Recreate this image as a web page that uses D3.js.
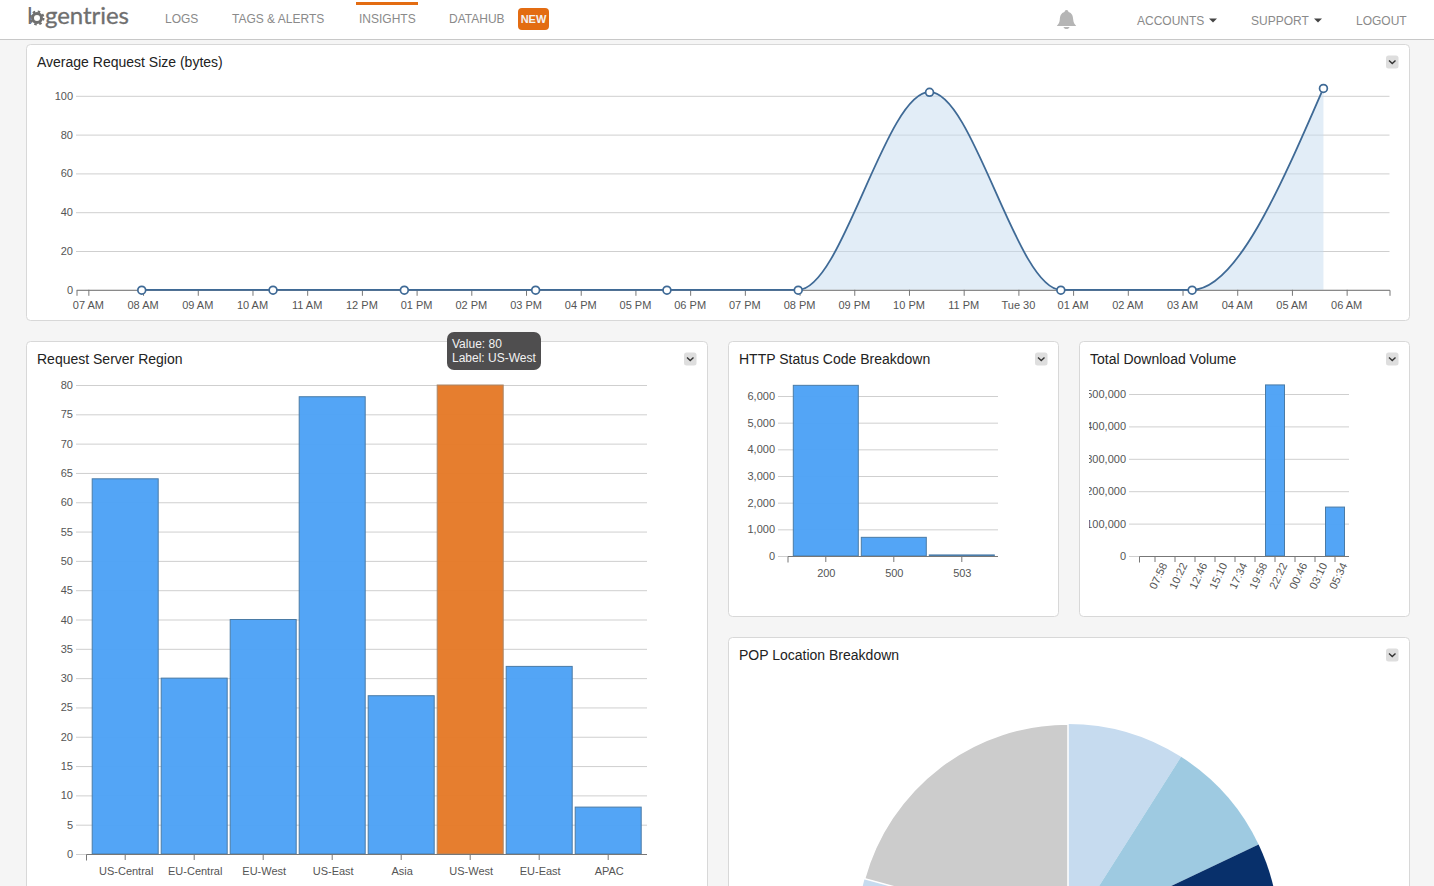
<!DOCTYPE html>
<html>
<head>
<meta charset="utf-8">
<title>Insights</title>
<script src="https://cdn.jsdelivr.net/npm/d3@7"></script>
<style>
  html, body { margin: 0; padding: 0; background: #f5f5f5; overflow: hidden; }
  svg { display: block; font-family: "Liberation Sans", Arial, sans-serif; }
  .tick text { fill: #555; font-size: 11px; }
  .panelTitle { fill: #222; font-size: 14px; }
  .nav { fill: #8a8a8a; font-size: 12px; }
</style>
</head>
<body>
<svg id="page" width="1434" height="886"></svg>
<script>
// Average Request Size, one point every 2h24
var reqTimes = [
  new Date(2014, 8, 29, 7, 58), new Date(2014, 8, 29, 10, 22), new Date(2014, 8, 29, 12, 46),
  new Date(2014, 8, 29, 15, 10), new Date(2014, 8, 29, 17, 34), new Date(2014, 8, 29, 19, 58),
  new Date(2014, 8, 29, 22, 22), new Date(2014, 8, 30, 0, 46), new Date(2014, 8, 30, 3, 10),
  new Date(2014, 8, 30, 5, 34)];
var reqSizes = [0, 0, 0, 0, 0, 0, 102, 0, 0, 104];
var reqTicks = [0, 20, 40, 60, 80, 100];

// Request Server Region
var regions = ["US-Central", "EU-Central", "EU-West", "US-East", "Asia", "US-West", "EU-East", "APAC"];
var regionValues = [64, 30, 40, 78, 27, 80, 32, 8];
var regionTicks = d3.range(0, 85, 5);

// HTTP Status Code Breakdown
var statusCodes = ["200", "500", "503"];
var statusValues = [6400, 700, 40];
var statusTicks = [0, 1000, 2000, 3000, 4000, 5000, 6000];

// Total Download Volume
var volumeTimes = ["07:58", "10:22", "12:46", "15:10", "17:34", "19:58", "22:22", "00:46", "03:10", "05:34"];
var volumeValues = [0, 0, 0, 0, 0, 0, 528000, 0, 0, 151000];
var volumeTicks = [0, 100000, 200000, 300000, 400000, 500000];

// POP Location Breakdown, in degrees. Only the top of the pie is on the page
// so the middle slices are a rough guess
var popValues = [32.4, 32.2, 38, 50, 60, 33.1, 39.8, 74.5];
var popColors = ["#c6dbef", "#9ecae1", "#08306b", "#6baed6", "#3182bd", "#9ecae1", "#c6dbef", "#cccccc"];

var barBlue = "#4da2f6";
var barOrange = "#e57a28";
var svg = d3.select("#page");

// top nav
svg.append("rect").attr("width", 1434).attr("height", 39.5).attr("fill", "#fff");
svg.append("line").attr("x1", 0).attr("x2", 1434).attr("y1", 39.5).attr("y2", 39.5).attr("stroke", "#c8c8c8");
svg.append("text").attr("x", 27).attr("y", 24).attr("fill", "#6f6f6f")
  .style("font-family", "Lato").style("font-size", "24px").text("l");
svg.append("text").attr("x", 45).attr("y", 24).attr("fill", "#6f6f6f").attr("stroke", "#6f6f6f").attr("stroke-width", 0.3)
  .style("font-family", "Lato").style("font-size", "24px").attr("textLength", 84).text("gentries");
svg.append("circle").attr("cx", 37).attr("cy", 18).attr("r", 4.5).attr("fill", "none").attr("stroke", "#6f6f6f").attr("stroke-width", 3);
svg.append("circle").attr("cx", 37).attr("cy", 18).attr("r", 6.5).attr("fill", "none").attr("stroke", "#6f6f6f")
  .attr("stroke-width", 2).attr("stroke-dasharray", "2.5 2.6");

var navLeft = [["LOGS", 165], ["TAGS & ALERTS", 232], ["INSIGHTS", 359], ["DATAHUB", 449]];
svg.selectAll(".navL").data(navLeft).enter().append("text").attr("class", "nav")
  .attr("x", function (d) { return d[1]; }).attr("y", 23).text(function (d) { return d[0]; });
var navRight = [["ACCOUNTS", 1137], ["SUPPORT", 1251], ["LOGOUT", 1356]];
svg.selectAll(".navR").data(navRight).enter().append("text").attr("class", "nav")
  .attr("x", function (d) { return d[1]; }).attr("y", 25).text(function (d) { return d[0]; });
svg.append("rect").attr("x", 356).attr("y", 2).attr("width", 62).attr("height", 3).attr("fill", "#e36c12");
svg.append("rect").attr("x", 518).attr("y", 8).attr("width", 31).attr("height", 22).attr("rx", 4).attr("fill", "#e36c12");
svg.append("text").attr("x", 533.5).attr("y", 23).attr("text-anchor", "middle").attr("fill", "#f3f3f3")
  .style("font-size", "11px").style("font-weight", "bold").text("NEW");
[1209, 1314].forEach(function (cx) {
  svg.append("path").attr("d", "M" + cx + " 18.5h8l-4 4z").attr("fill", "#444");
});
// bell
svg.append("path").attr("fill", "#b5b5b5")
  .attr("d", "M1066.5 10c1.2 0 1.8.8 2 2 3.5 1 4.5 4 4.7 7.500.2 3 1.300 4.500 3 6.500h-19.400c1.700-2 2.800-3.500 3-6.500.2-3.500 1.200-6.500 4.700-7.500.2-1.200.8-2 2-2z");
svg.append("path").attr("fill", "#b5b5b5").attr("d", "M1063.500 27h6c-.5 1.500-1.500 2-3 2s-2.500-.5-3-2z");

// panels
var panels = [
  { x: 26.5, y: 44.5, w: 1383, h: 276, title: "Average Request Size (bytes)" },
  { x: 26.5, y: 341.5, w: 681, h: 600, title: "Request Server Region" },
  { x: 728.5, y: 341.5, w: 330, h: 275, title: "HTTP Status Code Breakdown" },
  { x: 1079.5, y: 341.5, w: 330, h: 275, title: "Total Download Volume" },
  { x: 728.5, y: 637.5, w: 681, h: 300, title: "POP Location Breakdown" }
];
panels.forEach(function (p) {
  svg.append("rect").attr("x", p.x).attr("y", p.y).attr("width", p.w).attr("height", p.h).attr("rx", 4)
    .attr("fill", "#fff").attr("stroke", "#d8d8d8");
  svg.append("text").attr("class", "panelTitle").attr("x", p.x + 10.500).attr("y", p.y + 22.500).text(p.title);
  var bx = p.x + p.w - 23.5, by = p.y + 11;
  svg.append("rect").attr("x", bx).attr("y", by).attr("width", 12.5).attr("height", 13).attr("rx", 2.5).attr("fill", "#dedede");
  svg.append("path").attr("d", "M" + (bx + 3) + " " + (by + 5) + "l3.25 3l3.25 -3").attr("fill", "none")
    .attr("stroke", "#333").attr("stroke-width", 1.4);
});

function styleAxis(g) {
  g.selectAll(".domain").attr("stroke", "#777");
  g.selectAll("line").attr("stroke", "#777");
}

// grid lines and labels of the value axis
function drawYAxis(y, ticks, gridLeft, gridRight) {
  var g = svg.append("g").attr("transform", "translate(" + gridLeft + ",0)")
    .call(d3.axisLeft(y).tickValues(ticks).tickSize(0).tickPadding(3).tickFormat(d3.format(",")));
  g.select(".domain").remove();
  g.selectAll(".tick line").attr("x2", gridRight - gridLeft).attr("stroke", "#cfcfcf");
  return g;
}

function drawBars(opts) {
  var x = d3.scaleBand().domain(opts.cats).range(opts.barRange).paddingInner(opts.pad).paddingOuter(opts.pad / 2);
  var y = d3.scaleLinear().domain(opts.yDomain).range(opts.yRange);
  var yAxis = drawYAxis(y, opts.ticks, opts.gridLeft, opts.gridRight);

  svg.selectAll(null).data(opts.vals).enter().append("rect")
    .attr("x", function (d, i) { return x(opts.cats[i]); })
    .attr("width", x.bandwidth())
    .attr("y", function (d) { return y(d); })
    .attr("height", function (d) { return y(0) - y(d); })
    .attr("fill", function (d) { return d === opts.highlight ? barOrange : barBlue; })
    .attr("fill-opacity", 0.97)
    .attr("stroke", function (d) { return d === opts.highlight ? "#a88668" : "#4a7ba6"; });

  var xAxis = svg.append("g").attr("transform", "translate(0," + y(0) + ")")
    .call(d3.axisBottom(x).tickSize(6).tickPadding(opts.tickPad));
  xAxis.select(".domain").remove();
  xAxis.append("path").attr("fill", "none")
    .attr("d", "M" + opts.axisLeft + " 6.5V0.5H" + opts.gridRight);
  styleAxis(xAxis);
  xAxis.select("path").attr("stroke", "#777");
  return { axis: xAxis, yAxis: yAxis };
}

// Average Request Size
(function () {
  var x = d3.scaleTime()
    .domain([new Date(2014, 8, 29, 6, 47), new Date(2014, 8, 30, 6, 47)])
    .range([76.5, 1389.5]);
  var y = d3.scaleLinear().domain([0, 100]).range([289.8, 95.8]);
  drawYAxis(y, reqTicks, 76, 1389.5);

  var fmtHour = d3.timeFormat("%I %p"), fmtDay = d3.timeFormat("%a %d");
  var area = d3.area().x(function (d, i) { return x(reqTimes[i]) + 0.5; }).y0(y(0)).y1(function (d) { return y(d); })
    .curve(d3.curveMonotoneX);
  var line = d3.line().x(function (d, i) { return x(reqTimes[i]) + 0.5; }).y(function (d) { return y(d); })
    .curve(d3.curveMonotoneX);

  svg.append("path").datum(reqSizes).attr("d", area).attr("fill", "#c6dbef").attr("fill-opacity", 0.5);

  var xAxis = svg.append("g").attr("transform", "translate(0," + y(0) + ")")
    .call(d3.axisBottom(x).ticks(d3.timeHour.every(1)).tickSize(6).tickPadding(5)
      .tickFormat(function (d) { return d.getHours() === 0 ? fmtDay(d) : fmtHour(d); }));
  styleAxis(xAxis);
  xAxis.selectAll("text").attr("dx", -0.5);

  svg.append("path").datum(reqSizes).attr("d", line).attr("fill", "none").attr("stroke", "#3f6a96").attr("stroke-width", 1.8);
  svg.selectAll(null).data(reqSizes).enter().append("circle")
    .attr("cx", function (d, i) { return x(reqTimes[i]) + 0.5; })
    .attr("cy", function (d) { return y(d) + 0.4; })
    .attr("r", 3.9).attr("fill", "#fff").attr("stroke", "#3f6a96").attr("stroke-width", 1.7);
})();

// Request Server Region
drawBars({
  cats: regions, vals: regionValues, highlight: 80,
  barRange: [90.7, 642.7], pad: 3 / 69, axisLeft: 86.5, gridLeft: 76, gridRight: 647,
  yDomain: [0, 80], yRange: [854, 385], ticks: regionTicks, tickPad: 7
}).axis.selectAll("text").attr("dx", 1);

// HTTP Status Code Breakdown
drawBars({
  cats: statusCodes, vals: statusValues,
  barRange: [791.8, 995.8], pad: 3 / 68, axisLeft: 788, gridLeft: 778, gridRight: 998,
  yDomain: [0, 6000], yRange: [556, 396], ticks: statusTicks, tickPad: 7
}).axis.selectAll("text").attr("dx", 0.5);

// Total Download Volume, the labels get cut on the left like the original
(function () {
  var defs = svg.append("defs");
  defs.append("clipPath").attr("id", "volClip").append("rect")
    .attr("x", 1089).attr("y", 370).attr("width", 300).attr("height", 240);
  var x = d3.scaleBand().domain(volumeTimes).range([1145, 1345]).paddingInner(0.05).paddingOuter(0.025);
  var y = d3.scaleLinear().domain([0, 500000]).range([556, 394]);
  var wrap = svg.append("g").attr("clip-path", "url(#volClip)");
  var yAxis = wrap.append("g").attr("transform", "translate(1129,0)")
    .call(d3.axisLeft(y).tickValues(volumeTicks).tickSize(0).tickPadding(3).tickFormat(d3.format(",")));
  yAxis.select(".domain").remove();
  yAxis.selectAll(".tick line").attr("x2", 220).attr("stroke", "#cfcfcf");

  svg.selectAll(null).data(volumeValues).enter().append("rect")
    .attr("x", function (d, i) { return x(volumeTimes[i]); })
    .attr("width", x.bandwidth())
    .attr("y", function (d) { return y(d); })
    .attr("height", function (d) { return y(0) - y(d); })
    .attr("fill", barBlue).attr("fill-opacity", 0.97)
    .attr("stroke", function (d) { return d > 0 ? "#4a7ba6" : "none"; });

  var xAxis = svg.append("g").attr("transform", "translate(0," + y(0) + ")")
    .call(d3.axisBottom(x).tickSize(6).tickPadding(6));
  xAxis.select(".domain").remove();
  xAxis.append("path").attr("fill", "none").attr("d", "M1139.5 6.5V0.5H1349");
  styleAxis(xAxis);
  xAxis.select("path").attr("stroke", "#777");
  xAxis.selectAll("text").attr("text-anchor", "end").attr("dy", 0)
    .attr("transform", "translate(12.5,9) rotate(-65)").attr("y", 0);
})();

// POP Location Breakdown
(function () {
  var pie = d3.pie().sort(null).value(function (d) { return d; });
  var arc = d3.arc().innerRadius(0).outerRadius(211);
  var g = svg.append("g").attr("transform", "translate(1068,935)");
  g.selectAll("path").data(pie(popValues)).enter().append("path")
    .attr("d", arc)
    .attr("fill", function (d, i) { return popColors[i]; })
    .attr("stroke", function (d, i) { return i === popValues.length - 1 ? "#fff" : "none"; })
    .attr("stroke-width", 1.5);
})();

// tooltip sitting on the hovered US-West bar
svg.append("rect").attr("x", 447).attr("y", 332).attr("width", 94).attr("height", 38).attr("rx", 7).attr("fill", "#4f4e4f");
svg.append("text").attr("x", 452).attr("y", 348).attr("fill", "#f2f2f2").style("font-size", "12px").text("Value: 80");
svg.append("text").attr("x", 452).attr("y", 362).attr("fill", "#f2f2f2").style("font-size", "12px").text("Label: US-West");
</script>
</body>
</html>
